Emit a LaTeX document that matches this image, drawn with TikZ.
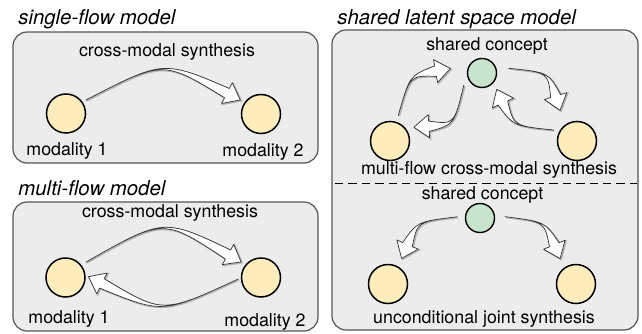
\documentclass[tikz,border=0pt]{standalone}
\usepackage{fontspec}
\setmainfont{TeX Gyre Heros}
\usepackage{tikz}
\usetikzlibrary{calc}

\definecolor{modyellow}{RGB}{253,236,188}
\definecolor{concgreen}{RGB}{201,228,205}
\definecolor{panelgray}{RGB}{236,236,236}
\definecolor{paneledge}{RGB}{85,85,85}

\tikzset{
	panel/.style={draw=paneledge, fill=panelgray, line width=0.6pt, rounded corners=7pt},
	modality/.style={circle, draw=black, line width=0.75pt, fill=modyellow, minimum size=19.5pt, inner sep=0pt},
	concept/.style={circle, draw=black, line width=0.7pt, fill=concgreen, minimum size=14.5pt, inner sep=0pt},
	heading/.style={font=\fontsize{10.2}{12}\selectfont\itshape, anchor=base west, inner sep=0pt},
	caption/.style={font=\fontsize{8.9}{10}\selectfont, anchor=base, inner sep=0pt},
	swooshline/.style={draw=black!80, fill=white, line width=0.35pt, line join=round,
		preaction={draw=black!30, line width=0.8pt, transform canvas={shift={(0.5pt,-0.4pt)}}}},
}

% tapered curved arrow: tail, tip, bend
\newcommand{\swoosh}[3]{%
	\coordinate (sw-m) at ($(#1)!0.5!(#2)!#3!90:(#2)$);
	\coordinate (sw-b) at ($(#2)!7.5pt!(sw-m)$);
	\draw[swooshline] (#1) .. controls (sw-m) .. ($(sw-b)!2.6pt!90:(#2)$)
		-- ($(sw-b)!5.8pt!90:(#2)$) -- (#2) -- ($(sw-b)!5.8pt!-90:(#2)$)
		-- ($(sw-b)!2.6pt!-90:(#2)$) .. controls (sw-m) .. (#1) -- cycle;
}

\begin{document}
\begin{tikzpicture}[x=0.5pt, y=0.5pt]
	\useasboundingbox (0,0) rectangle (642,333);

	% panels
	\draw[panel] (13,170) rectangle (318,301);
	\draw[panel] (13,2) rectangle (318,131);
	\draw[panel] (332,3) rectangle (638,303);

	\node[heading] (t1) at (18,308) {single-flow model};
	\node[heading] (t2) at (18,137.3) {multi-flow model};
	\node[heading] (t3) at (337,308) {shared latent space model};

	% single-flow
	\node[modality] (s1a) at (66,219.5) {};
	\node[modality] (s1b) at (261,219) {};
	\node[caption] (s1l) at (167,277) {cross-modal synthesis};
	\node[caption] (s1n) at (67,177.5) {modality 1};
	\node[caption] (s1m) at (263,176.3) {modality 2};
	\coordinate (s1t) at ($(s1a)+(34:24)$);
	\coordinate (s1h) at ($(s1b)+(146:25)$);
	\swoosh{s1t}{s1h}{20pt}

	% multi-flow
	\node[modality] (m1a) at (65.5,55.5) {};
	\node[modality] (m1b) at (261,55.5) {};
	\node[caption] (m1l) at (170,115.3) {cross-modal synthesis};
	\node[caption] (m1n) at (69,10) {modality 1};
	\node[caption] (m1m) at (265,6.3) {modality 2};
	\coordinate (m1t) at ($(m1a)+(37:25.7)$);
	\coordinate (m1h) at ($(m1b)+(142:25.3)$);
	\coordinate (m2t) at ($(m1b)+(184:23)$);
	\coordinate (m2h) at ($(m1a)+(2:23)$);
	\swoosh{m1t}{m1h}{22pt}
	\swoosh{m2t}{m2h}{18pt}

	% shared latent space, multi-flow part
	\node[concept] (g1) at (482,260) {};
	\node[modality] (y1l) at (390,192) {};
	\node[modality] (y1r) at (577,192) {};
	\node[caption] (g1l) at (487,283) {shared concept};
	\node[caption] (y1c) at (489,158.7) {multi-flow cross-modal synthesis};
	\coordinate (la-t) at ($(y1l)+(72:27)$);
	\coordinate (la-h) at ($(g1)+(172:32)$);
	\coordinate (gl-t) at ($(g1)+(214:22)$);
	\coordinate (gl-h) at ($(y1l)+(30:27.6)$);
	\coordinate (gr-t) at ($(g1)+(10:27)$);
	\coordinate (gr-h) at ($(y1r)+(119:35)$);
	\coordinate (rg-t) at ($(y1r)+(155:26)$);
	\coordinate (rg-h) at ($(g1)+(-48:22)$);
	\swoosh{la-t}{la-h}{11pt}
	\swoosh{gl-t}{gl-h}{12pt}
	\swoosh{gr-t}{gr-h}{11pt}
	\swoosh{rg-t}{rg-h}{10pt}

	\draw[dash pattern=on 4.2pt off 2.5pt, line width=0.55pt] (335,149.7) -- (637,149.7);

	% shared latent space, joint part
	\node[concept] (g2) at (480,115) {};
	\node[modality] (y2l) at (388,49) {};
	\node[modality] (y2r) at (576,49) {};
	\node[caption] (g2l) at (482.5,133.7) {shared concept};
	\node[caption] (y2c) at (484,9.7) {unconditional joint synthesis};
	\coordinate (jl-t) at ($(g2)+(177:23)$);
	\coordinate (jl-h) at ($(y2l)+(62:29)$);
	\coordinate (jr-t) at ($(g2)+(3:25)$);
	\coordinate (jr-h) at ($(y2r)+(122:30)$);
	\swoosh{jl-t}{jl-h}{-10pt}
	\swoosh{jr-t}{jr-h}{10pt}
\end{tikzpicture}
\end{document}
